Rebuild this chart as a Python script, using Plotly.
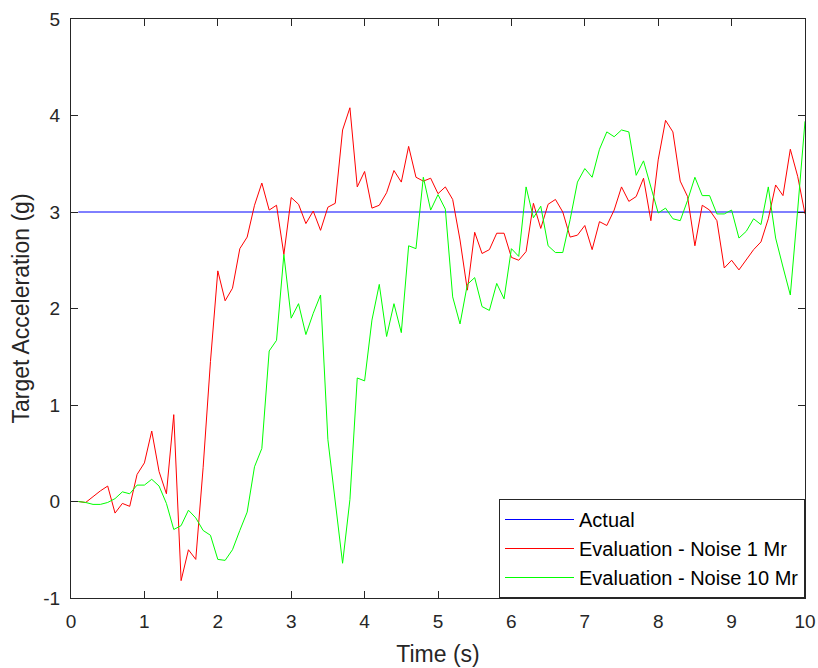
import plotly.graph_objects as go

# Sample times (s)
time_s = [0.1, 0.2, 0.3, 0.4, 0.5, 0.6, 0.7, 0.8, 0.9, 1.0,
          1.1, 1.2, 1.3, 1.4, 1.5, 1.6, 1.7, 1.8, 1.9, 2.0,
          2.1, 2.2, 2.3, 2.4, 2.5, 2.6, 2.7, 2.8, 2.9, 3.0,
          3.1, 3.2, 3.3, 3.4, 3.5, 3.6, 3.7, 3.8, 3.9, 4.0,
          4.1, 4.2, 4.3, 4.4, 4.5, 4.6, 4.7, 4.8, 4.9, 5.0,
          5.1, 5.2, 5.3, 5.4, 5.5, 5.6, 5.7, 5.8, 5.9, 6.0,
          6.1, 6.2, 6.3, 6.4, 6.5, 6.6, 6.7, 6.8, 6.9, 7.0,
          7.1, 7.2, 7.3, 7.4, 7.5, 7.6, 7.7, 7.8, 7.9, 8.0,
          8.1, 8.2, 8.3, 8.4, 8.5, 8.6, 8.7, 8.8, 8.9, 9.0,
          9.1, 9.2, 9.3, 9.4, 9.5, 9.6, 9.7, 9.8, 9.9, 10.0]

# True target acceleration (g)
actual_time = [0.1, 10.0]
actual_g = [3.0, 3.0]

# Estimated acceleration, 1 Mr noise (g)
noise1_g = [0.00, -0.01, 0.05, 0.11, 0.16, -0.12, -0.02, -0.05, 0.28, 0.40,
            0.73, 0.31, 0.08, 0.90, -0.82, -0.50, -0.60, 0.35, 1.45, 2.39,
            2.08, 2.21, 2.62, 2.74, 3.07, 3.30, 3.02, 3.07, 2.56, 3.15,
            3.08, 2.88, 3.01, 2.81, 3.05, 3.09, 3.85, 4.08, 3.26, 3.42,
            3.04, 3.07, 3.20, 3.43, 3.31, 3.68, 3.36, 3.32, 3.35, 3.19,
            3.26, 3.13, 2.71, 2.19, 2.79, 2.57, 2.61, 2.78, 2.78, 2.53,
            2.50, 2.59, 3.09, 2.83, 3.08, 3.13, 3.00, 2.74, 2.76, 2.86,
            2.61, 2.90, 2.86, 3.02, 3.26, 3.11, 3.16, 3.35, 2.91, 3.54,
            3.95, 3.83, 3.32, 3.16, 2.65, 3.07, 3.02, 2.91, 2.42, 2.50,
            2.40, 2.50, 2.61, 2.69, 2.93, 3.28, 3.17, 3.65, 3.37, 2.98]

# Estimated acceleration, 10 Mr noise (g)
noise10_g = [0.00, -0.01, -0.03, -0.03, -0.01, 0.03, 0.10, 0.08, 0.17, 0.17,
             0.23, 0.16, -0.02, -0.29, -0.25, -0.09, -0.17, -0.30, -0.35, -0.60,
             -0.61, -0.50, -0.30, -0.11, 0.36, 0.55, 1.56, 1.67, 2.56, 1.90,
             2.05, 1.73, 1.95, 2.14, 0.64, -0.02, -0.64, 0.02, 1.28, 1.25,
             1.88, 2.25, 1.71, 2.05, 1.75, 2.65, 2.62, 3.36, 3.02, 3.18,
             3.03, 2.12, 1.84, 2.25, 2.32, 2.02, 1.98, 2.26, 2.10, 2.62,
             2.54, 3.26, 2.94, 3.06, 2.65, 2.58, 2.58, 2.92, 3.31, 3.45,
             3.36, 3.65, 3.83, 3.78, 3.85, 3.83, 3.38, 3.53, 3.26, 2.99,
             3.04, 2.93, 2.91, 3.12, 3.36, 3.17, 3.17, 2.98, 2.98, 3.02,
             2.73, 2.80, 2.93, 2.87, 3.26, 2.73, 2.43, 2.14, 3.02, 3.94]

x_ticks = [0, 1, 2, 3, 4, 5, 6, 7, 8, 9, 10]
y_ticks = [-1, 0, 1, 2, 3, 4, 5]
y_tick_labels = ["-1", "0", "1", "2", "3", "4", "5"]

AXIS_COLOR = "#262626"
FONT = "Liberation Sans, Arial, sans-serif"

fig = go.Figure()
fig.add_trace(go.Scatter(x=actual_time, y=actual_g, mode="lines", name="Actual",
                         line=dict(color="#0000FF", width=1)))
fig.add_trace(go.Scatter(x=time_s, y=noise1_g, mode="lines", name="Evaluation - Noise 1 Mr",
                         line=dict(color="#FF0000", width=1)))
fig.add_trace(go.Scatter(x=time_s, y=noise10_g, mode="lines", name="Evaluation - Noise 10 Mr",
                         line=dict(color="#00FF00", width=1)))

axis_common = dict(
    showline=True, linecolor=AXIS_COLOR, linewidth=1, mirror="ticks",
    ticks="inside", ticklen=7, tickcolor=AXIS_COLOR, tickwidth=1,
    showgrid=False, zeroline=False, automargin=False,
    tickfont=dict(family=FONT, size=19, color=AXIS_COLOR),
)

fig.update_layout(
    width=818, height=668,
    margin=dict(l=71, r=13, t=19, b=70),
    paper_bgcolor="white", plot_bgcolor="white",
    font=dict(family=FONT, color=AXIS_COLOR),
    xaxis=dict(range=[0, 10], tickvals=x_ticks, ticklabelstandoff=6,
               title=dict(text="Time (s)", font=dict(family=FONT, size=23, color=AXIS_COLOR), standoff=15),
               **axis_common),
    yaxis=dict(range=[-1, 5], tickvals=y_ticks, ticktext=y_tick_labels, ticklabelstandoff=6,
               title=dict(text="Target Acceleration (g)", font=dict(family=FONT, size=23, color=AXIS_COLOR), standoff=7),
               **axis_common),
    legend=dict(x=1, xanchor="right", y=0, yanchor="bottom",
                bgcolor="white", bordercolor=AXIS_COLOR, borderwidth=1,
                font=dict(family=FONT, size=20, color="black"),
                itemwidth=69),
    showlegend=True,
)

fig.write_html("out.html")
